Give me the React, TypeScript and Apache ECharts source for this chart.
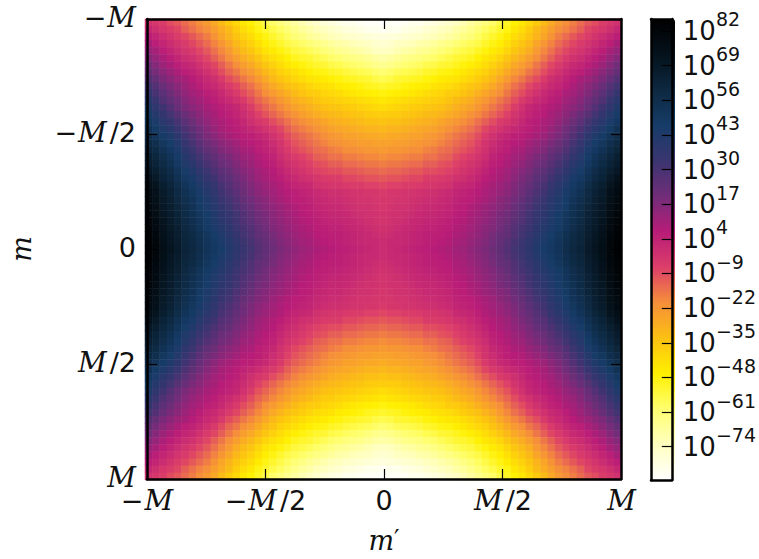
import React, { useEffect, useRef } from "react";
import * as echarts from "echarts";

// log10 of the magnitude, read from the upper-left quadrant: m = -M (first row) to m = 0 (last row),
// m' = -M (first column) to m' = 0 (last column). The picture mirrors this quadrant.
const row00 = [-2,-4,-6,-9,-11,-14,-17,-20,-23,-27,-32,-36,-40,-44,-47,-51,-55,-59,-62,-65,-68,-71,-74,-76,-78,-80,-81,-83,-83,-84,-85,-85,-86];
const row01 = [2,-1,-4,-6,-8,-12,-15,-18,-20,-24,-28,-32,-37,-41,-44,-49,-52,-55,-58,-61,-64,-67,-69,-72,-73,-75,-77,-79,-80,-81,-83,-83,-84];
const row02 = [6,3,0,-3,-6,-8,-11,-14,-17,-21,-26,-30,-34,-38,-41,-45,-49,-52,-55,-58,-61,-63,-66,-68,-70,-72,-73,-75,-76,-77,-78,-79,-80];
const row03 = [10,6,3,0,-3,-5,-8,-11,-14,-18,-22,-26,-31,-35,-38,-42,-46,-49,-52,-55,-57,-59,-61,-63,-65,-67,-69,-70,-72,-73,-74,-76,-77];
const row04 = [13,10,6,3,0,-3,-5,-8,-11,-15,-19,-23,-28,-32,-35,-39,-43,-45,-48,-51,-54,-55,-57,-59,-61,-63,-65,-66,-68,-69,-71,-73,-74];
const row05 = [16,13,9,6,3,0,-2,-5,-8,-12,-16,-20,-24,-28,-31,-35,-39,-42,-44,-47,-50,-52,-53,-55,-57,-59,-60,-62,-63,-64,-66,-68,-69];
const row06 = [20,16,12,9,6,3,1,-2,-5,-8,-12,-16,-20,-24,-27,-31,-35,-38,-41,-44,-46,-48,-50,-52,-53,-55,-56,-58,-59,-60,-62,-64,-65];
const row07 = [23,19,15,12,9,6,4,1,-2,-5,-9,-13,-16,-20,-23,-27,-31,-34,-38,-40,-42,-44,-46,-48,-49,-51,-52,-54,-55,-56,-57,-59,-60];
const row08 = [27,23,18,15,12,10,7,4,1,-1,-5,-9,-12,-16,-19,-23,-27,-31,-34,-37,-39,-41,-43,-44,-45,-47,-48,-50,-51,-52,-53,-55,-56];
const row09 = [31,27,22,18,15,12,9,6,3,1,-2,-5,-8,-12,-15,-19,-23,-27,-30,-33,-35,-37,-39,-41,-42,-43,-45,-46,-47,-48,-50,-51,-52];
const row10 = [35,30,25,21,17,14,11,9,6,4,1,-2,-5,-9,-12,-16,-20,-23,-26,-29,-32,-34,-36,-37,-39,-40,-41,-43,-44,-45,-46,-47,-48];
const row11 = [39,34,28,24,20,16,13,11,8,6,3,1,-2,-5,-9,-13,-16,-19,-22,-25,-28,-30,-32,-34,-36,-37,-38,-39,-40,-41,-42,-43,-44];
const row12 = [43,37,32,27,22,18,15,13,10,8,6,4,2,-2,-6,-10,-13,-16,-19,-22,-25,-27,-29,-31,-33,-34,-35,-36,-37,-38,-39,-40,-41];
const row13 = [46,41,36,31,26,22,18,15,12,10,7,5,3,0,-3,-7,-10,-13,-16,-19,-21,-24,-26,-28,-30,-31,-32,-33,-34,-35,-36,-37,-37];
const row14 = [49,44,39,35,30,25,21,17,14,11,9,7,5,2,-1,-4,-6,-9,-12,-15,-18,-20,-22,-24,-26,-28,-29,-30,-31,-32,-33,-33,-34];
const row15 = [53,48,43,39,34,29,24,20,16,13,10,8,6,4,2,0,-3,-5,-8,-12,-15,-17,-19,-21,-23,-25,-26,-27,-28,-29,-30,-30,-31];
const row16 = [56,52,47,43,38,32,27,22,18,15,12,10,8,6,5,3,1,-2,-5,-9,-12,-14,-16,-18,-20,-22,-23,-25,-25,-26,-27,-27,-28];
const row17 = [59,55,50,46,41,35,30,25,21,18,15,13,11,8,7,5,3,0,-3,-7,-10,-12,-14,-16,-18,-20,-21,-22,-23,-24,-24,-25,-25];
const row18 = [62,58,53,49,44,38,33,28,24,21,17,15,13,10,9,6,4,2,-2,-5,-8,-10,-12,-14,-15,-17,-18,-20,-20,-21,-22,-22,-23];
const row19 = [65,61,56,52,47,41,36,31,27,24,20,18,15,12,11,8,6,4,0,-3,-5,-7,-9,-12,-13,-15,-15,-17,-17,-18,-19,-19,-20];
const row20 = [67,63,58,54,49,43,39,34,30,26,22,20,17,14,12,9,7,5,2,-1,-3,-5,-7,-9,-10,-12,-12,-14,-14,-15,-16,-16,-17];
const row21 = [70,66,61,57,52,46,42,37,33,29,25,23,19,16,14,11,9,7,4,1,-1,-3,-5,-7,-8,-9,-9,-11,-11,-12,-13,-13,-14];
const row22 = [73,69,63,59,54,49,45,40,36,32,27,25,21,18,15,12,10,8,6,3,1,-1,-2,-4,-5,-6,-6,-8,-8,-9,-10,-10,-11];
const row23 = [76,72,66,62,57,52,48,43,39,35,30,27,23,20,17,14,12,10,8,5,3,2,1,-2,-3,-4,-4,-5,-6,-6,-7,-7,-8];
const row24 = [78,74,68,64,59,54,50,45,41,37,32,29,25,21,18,15,13,11,9,7,5,4,3,1,0,-1,-1,-2,-3,-3,-4,-4,-5];
const row25 = [79,75,69,65,60,55,52,47,43,39,34,31,27,23,20,17,15,12,10,8,6,5,4,2,1,0,0,-1,-2,-3,-3,-4,-4];
const row26 = [80,76,70,66,62,57,53,48,44,40,36,33,29,25,22,18,16,14,12,10,8,6,5,3,2,1,1,0,-1,-2,-2,-3,-4];
const row27 = [81,77,71,67,63,58,54,50,46,42,38,35,31,27,24,20,18,15,13,11,9,7,6,4,3,2,2,1,0,-1,-2,-2,-3];
const row28 = [82,78,72,68,64,59,55,51,47,43,39,36,32,28,25,21,19,16,14,12,10,8,7,5,4,3,3,2,1,0,-1,-2,-3];
const row29 = [83,79,73,69,65,60,56,52,48,44,41,38,33,30,27,23,20,17,15,13,11,9,8,6,5,4,4,3,2,1,0,-1,-2];
const row30 = [84,80,74,70,66,61,58,54,50,46,43,39,35,31,28,24,22,19,16,14,12,10,9,7,6,5,5,4,3,2,1,0,-1];
const row31 = [85,81,75,71,67,62,59,55,51,48,44,41,37,33,30,26,23,20,17,15,13,11,10,8,7,6,5,4,3,2,1,1,0];
const row32 = [85,81,76,72,68,63,60,56,52,49,46,42,38,34,31,27,24,21,18,16,14,12,11,9,8,7,6,5,4,3,2,1,0];
const quadrantRows = [row00,row01,row02,row03,row04,row05,row06,row07,row08,row09,row10,
  row11,row12,row13,row14,row15,row16,row17,row18,row19,row20,row21,row22,row23,row24,
  row25,row26,row27,row28,row29,row30,row31,row32];

const colorStops = ["#000000","#05121c","#0d2840","#163c68","#3a3570","#712d79","#b81c78",
  "#dc3e69","#f68f3a","#fcc012","#fff000","#ffff70","#ffffc0","#ffffff"];
const colorbarTicks = [82,69,56,43,30,17,4,-9,-22,-35,-48,-61,-74];
const axisTicks = [-0.5,0,0.5];
const axisLabelValues = [-1,-0.5,0,0.5,1];
const axisLabels: Record<string,string> = {
  "-1": "{n|\u2212}{i|M}",
  "-0.5": "{n|\u2212}{j|M}{n|/2}",
  "0": "{n|0}",
  "0.5": "{j|M}{n|/2}",
  "1": "{i|M}",
};

const mirror = (r: number[]) => [...r, ...r.slice(0, -1).reverse()];
const fullRows = [...quadrantRows, ...quadrantRows.slice(0, -1).reverse()].map(mirror);
const cats = fullRows.map((_, i) => String(i));
const cells: number[][] = [];
fullRows.forEach((r, y) => r.forEach((v, x) => cells.push([x, y, v])));

const FONT_SIZE = 28;
const italic = { fontFamily: "DejaVu Serif", fontStyle: "italic", fontSize: FONT_SIZE, color: "#111", lineHeight: 20 };
const rich = {
  n: { fontFamily: "DejaVu Sans", fontSize: 27, color: "#111", lineHeight: 20 },
  i: { ...italic, padding: [0, 0, 0, 1] },
  j: { ...italic, padding: [0, 3, 0, 1] },
};
const nameRich = {
  i: { fontFamily: "DejaVu Serif", fontStyle: "italic", fontSize: 27, color: "#111" },
  p: { fontFamily: "DejaVu Sans", fontSize: 24, color: "#111", verticalAlign: "top", lineHeight: 24 },
};
const line = { show: true, lineStyle: { color: "#000", width: 2.5 } };
const frameAxis = (extra: any) => ({
  type: "value", min: -1, max: 1, z: 10, splitLine: { show: false },
  axisLine: { ...line, onZero: false },
  axisTick: { show: true, inside: true, length: 10, customValues: axisTicks, lineStyle: { color: "#000", width: 1.2 } },
  axisLabel: { show: false },
  ...extra,
});
const mathLabel = (margin: number, padding: number[]) => ({
  show: true, margin, padding, customValues: axisLabelValues, rich,
  formatter: (v: number) => axisLabels[String(v)],
});
const barAxis = (extra: any) => ({
  type: "value", min: -86.5, max: 86.5, z: 10, gridIndex: 2, splitLine: { show: false },
  axisLine: { ...line, onZero: false }, axisTick: { show: false }, axisLabel: { show: false }, ...extra,
});

export default function App() {
  const ref = useRef<HTMLDivElement>(null);
  useEffect(() => {
    const chart = echarts.init(ref.current!, null, { renderer: "svg" });
    chart.setOption({
      animation: false,
      backgroundColor: "#fff",
      grid: [
        { left: 145, top: 19, width: 476, height: 461 },
        { left: 145, top: 19, width: 476, height: 461 },
        { left: 651, top: 19, width: 24, height: 461 },
      ],
      xAxis: [
        { type: "category", data: cats, gridIndex: 0, show: false },
        frameAxis({
          gridIndex: 1, position: "bottom", axisLabel: mathLabel(11, [0, 0, 0, 0]),
          name: "{i|m}{p|\u2032}", nameLocation: "middle", nameGap: 48,
          nameTextStyle: { rich: nameRich },
        }),
        frameAxis({ gridIndex: 1, position: "top" }),
        barAxis({ type: "value", min: 0, max: 1, position: "bottom" }),
        barAxis({ type: "value", min: 0, max: 1, position: "top" }),
      ],
      yAxis: [
        { type: "category", data: cats, gridIndex: 0, inverse: true, show: false },
        frameAxis({
          gridIndex: 1, position: "left", inverse: true, axisLabel: mathLabel(11, [0, 0, 3, 0]),
          name: "{i|m}", nameLocation: "middle", nameGap: 112, nameRotate: 90,
          nameTextStyle: { rich: nameRich },
        }),
        frameAxis({ gridIndex: 1, position: "right", inverse: true }),
        barAxis({ position: "left" }),
        barAxis({
          position: "right",
          axisTick: { show: true, inside: true, length: 10, customValues: colorbarTicks, lineStyle: { color: "#000", width: 1.2 } },
          axisLabel: {
            show: true, margin: 11, customValues: colorbarTicks, showMinLabel: true, showMaxLabel: true,
            formatter: (v: number) => `{b|10}{s|${String(v).replace("-", "\u2212")}}`,
            rich: {
              b: { fontFamily: "DejaVu Sans", fontSize: 26, color: "#111", lineHeight: 42 },
              s: { fontFamily: "DejaVu Sans", fontSize: 19, color: "#111", verticalAlign: "top", lineHeight: 19 },
            },
          },
        }),
      ],
      visualMap: {
        type: "continuous", min: -86.5, max: 86.5, seriesIndex: 0, show: true,
        calculable: false, realtime: false, showLabel: false, text: ["", ""],
        left: 651, top: 19, itemWidth: 24, itemHeight: 461, padding: 0, hoverLink: false,
        inRange: { color: [...colorStops].reverse() },
      },
      series: [{
        type: "heatmap", xAxisIndex: 0, yAxisIndex: 0, data: cells,
        progressive: 0, itemStyle: { borderWidth: 0 }, emphasis: { disabled: true },
      }],
    });
    return () => chart.dispose();
  }, []);
  return <div ref={ref} style={{ position: "absolute", left: 0, top: 0, width: 759, height: 559 }} />;
}
